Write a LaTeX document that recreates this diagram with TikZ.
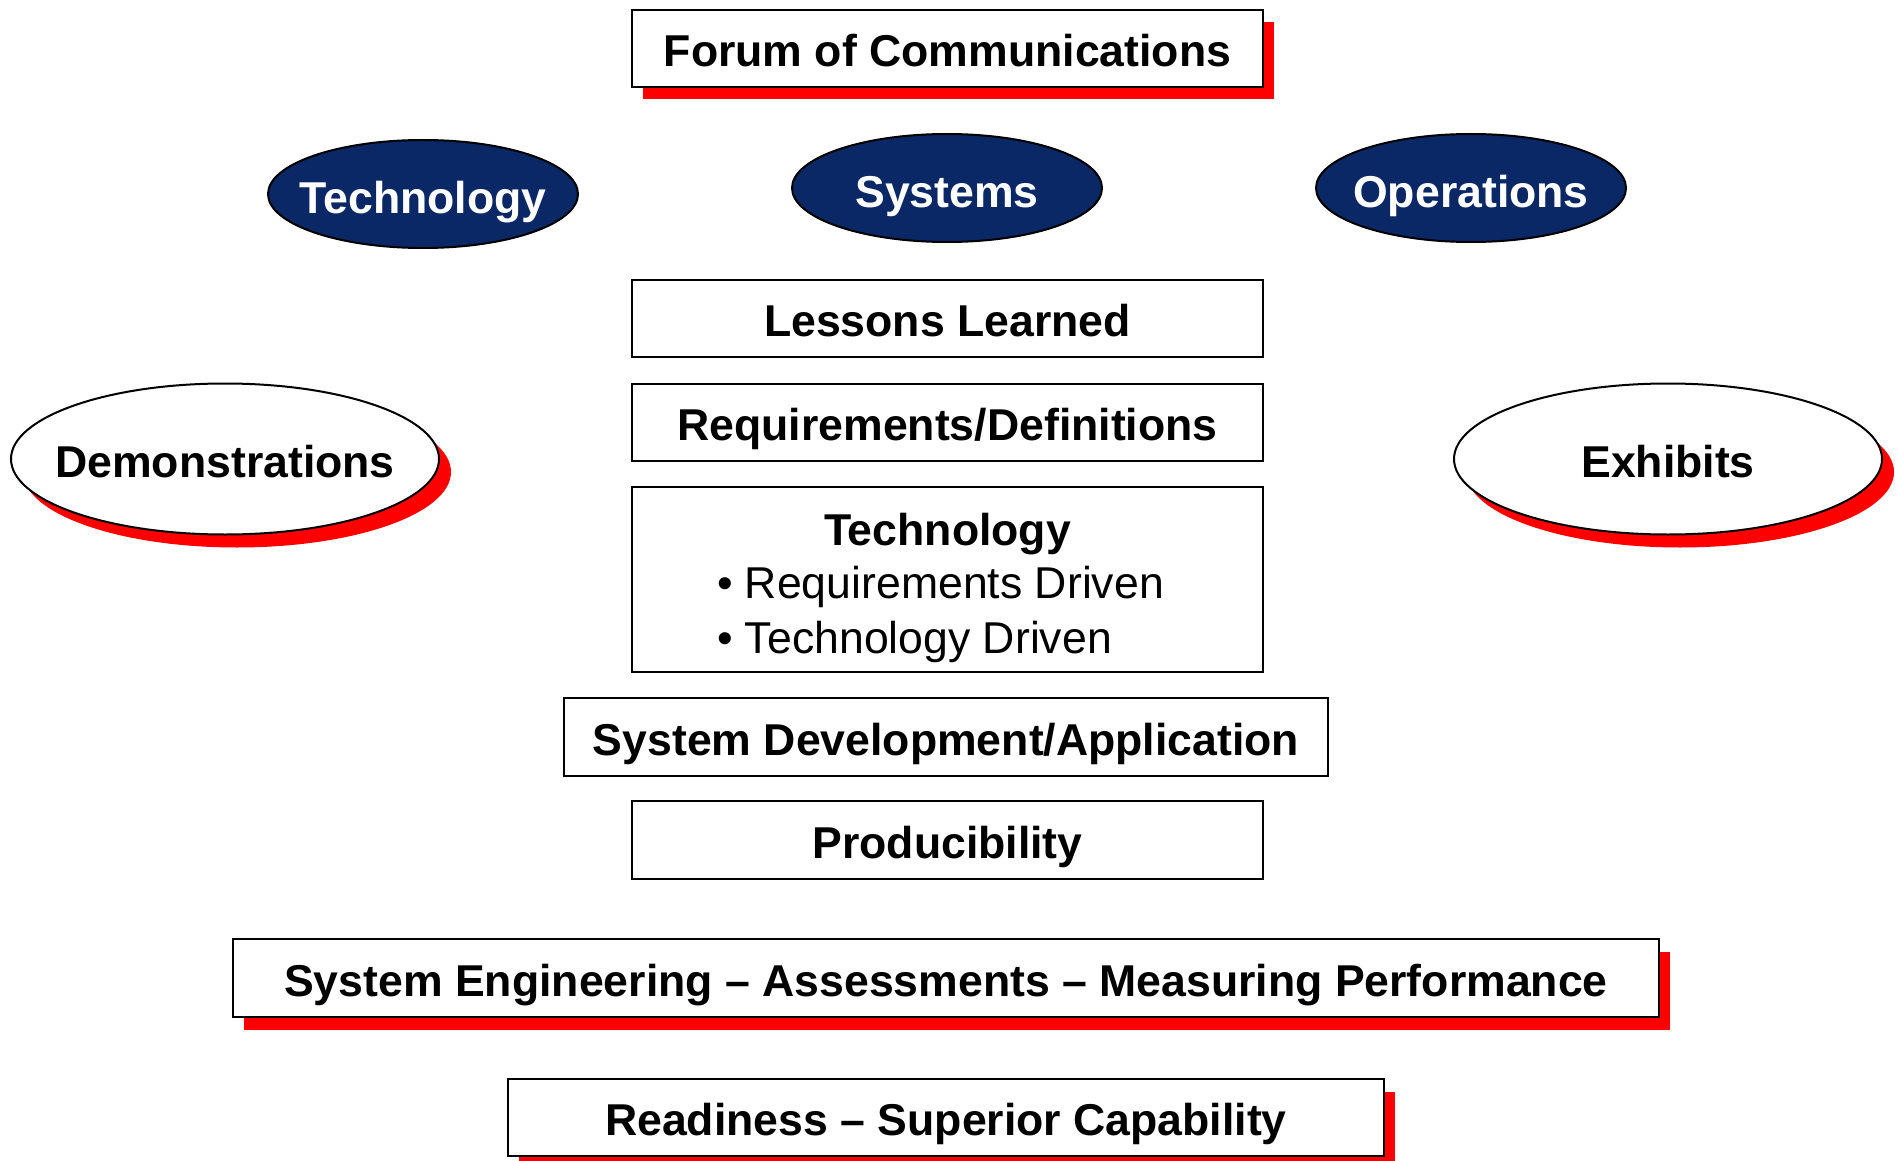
\documentclass[tikz,border=0pt]{standalone}
\usepackage{fontspec}
\setmainfont{Liberation Sans}
\usetikzlibrary{shapes.geometric,shadows}
\definecolor{navy}{RGB}{11,40,102}
\definecolor{shred}{RGB}{255,0,0}
\begin{document}
\begin{tikzpicture}[x=1pt,y=-1pt,
  every node/.style={inner sep=0pt, outer sep=0pt, text height=36pt, text depth=0pt,
    font=\fontsize{44.6}{50}\selectfont},
  box/.style={draw=black, line width=2pt, fill=white, rectangle, font=\fontsize{44.6}{50}\selectfont\bfseries},
  redshadow/.style={drop shadow={shadow xshift=11pt, shadow yshift=-12.5pt, fill=shred, opacity=1}},
  navyell/.style={ellipse, draw=black, line width=2pt, fill=navy,
    minimum width=310pt, minimum height=108pt},
  whiteell/.style={ellipse, draw=black, line width=2pt, fill=white,
    minimum width=428pt, minimum height=151pt,
    drop shadow={shadow xshift=12pt, shadow yshift=-13pt, fill=shred, opacity=1}},
  boldtext/.style={font=\fontsize{44.6}{50}\selectfont\bfseries},
  whitetext/.style={text=white, font=\fontsize{44.6}{50}\selectfont\bfseries, yshift=-2pt},
]
\useasboundingbox (0,0) rectangle (1898,1161);

\node[box, redshadow, minimum width=631pt, minimum height=77pt] (forum) at (947.5,48.5) {Forum of Communications};

\node[navyell] (etech) at (423,194) {};
\node[whitetext] (etechL) at (etech.center) {Technology};
\node[navyell] (esys) at (947,188) {};
\node[whitetext] (esysL) at (esys.center) {Systems};
\node[navyell] (eops) at (1471,188) {};
\node[whitetext] (eopsL) at (eops.center) {Operations};

\node[whiteell] (demo) at (225,459) {};
\node[boldtext] (demoL) at (demo.center) {Demonstrations};
\node[whiteell] (exh) at (1668,459) {};
\node[boldtext] (exhL) at (exh.center) {Exhibits};

\node[box, minimum width=631pt, minimum height=77pt] (lessons) at (947.5,318.5) {Lessons Learned};
\node[box, minimum width=631pt, minimum height=77pt] (reqs) at (947.5,422.5) {Requirements/Definitions};
\node[box, minimum width=631pt, minimum height=185pt] (techbox) at (947.5,579.5) {};
\node[boldtext] (techtitle) at (947.5,527) {Technology};
\node[anchor=west] (bul1) at (717,580) {• Requirements Driven};
\node[anchor=west] (bul2) at (717,635) {• Technology Driven};

\node[box, minimum width=764pt, minimum height=78pt] (sysdev) at (946,737) {System Development/Application};
\node[box, minimum width=631pt, minimum height=78pt] (prod) at (947.5,840) {Producibility};

\node[box, redshadow, minimum width=1426pt, minimum height=78pt] (syseng) at (946,978) {System Engineering – Assessments – Measuring Performance};
\node[box, redshadow, minimum width=876pt, minimum height=77pt] (ready) at (946,1117.5) {Readiness – Superior Capability};
\end{tikzpicture}
\end{document}
